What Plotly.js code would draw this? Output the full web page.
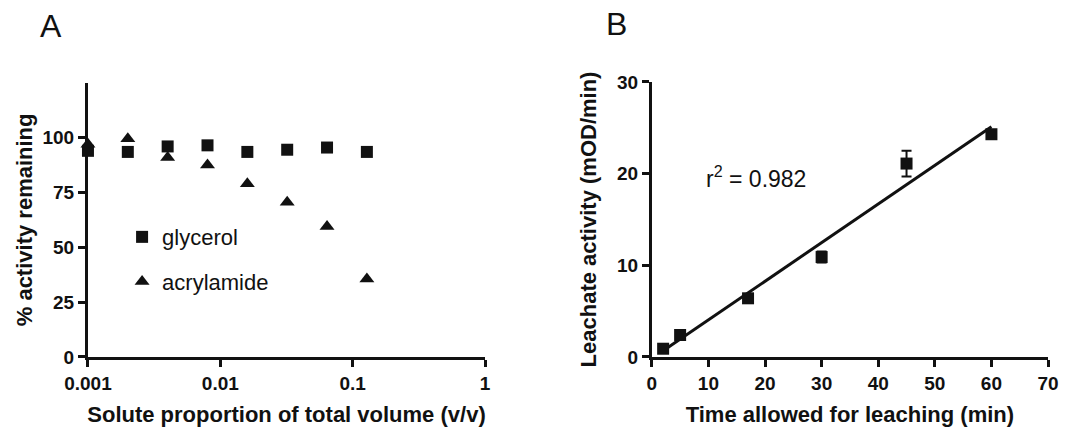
<!DOCTYPE html>
<html>
<head>
<meta charset="utf-8">
<script src="https://cdn.plot.ly/plotly-3.0.1.min.js"></script>
<style>html,body{margin:0;padding:0;background:#fff;}#chart{width:1090px;height:427px;}</style>
</head>
<body>
<div id="chart"></div>
<script>
// Panel A data
const propA = [0.001, 0.002, 0.004, 0.008, 0.016, 0.032, 0.064, 0.128];
const glycerol = [94, 93.5, 96, 96.5, 93.5, 94.5, 95.5, 93.5];
const acrylamide = [97, 99.5, 91, 87.5, 79, 70.5, 59.5, 35.5];
const xTickValsA = [0.001, 0.01, 0.1, 1];
const xTickTextA = ['0.001', '0.01', '0.1', '1'];
const yTickValsA = [0, 25, 50, 75, 100];

// Panel B data
const timeB = [2, 5, 17, 30, 45, 60];
const leachate = [0.9, 2.4, 6.4, 10.9, 21.1, 24.3];
const leachateErr = [0.2, 0.4, 0.3, 0.6, 1.4, 0.2];
const xTickValsB = [0, 10, 20, 30, 40, 50, 60, 70];
const yTickValsB = [0, 10, 20, 30];
const r2Text = 'r<sup>2</sup> = 0.982';

// least-squares fit line from the data
const n = timeB.length;
const mx = timeB.reduce((a, b) => a + b, 0) / n;
const my = leachate.reduce((a, b) => a + b, 0) / n;
let sxy = 0, sxx = 0;
for (let i = 0; i < n; i++) { sxy += (timeB[i] - mx) * (leachate[i] - my); sxx += (timeB[i] - mx) ** 2; }
const slope = sxy / sxx, icpt = my - slope * mx;
const fitX = [timeB[0], timeB[n - 1]];
const fitY = fitX.map(x => icpt + slope * x);

const FONT = 'Liberation Sans, Arial, sans-serif';
const tickFont = {family: FONT, size: 19, color: '#111', weight: 'bold'};
const titleFont = {family: FONT, size: 22, color: '#111', weight: 'bold'};

const traces = [
  {x: propA, y: glycerol, type: 'scatter', mode: 'markers', name: 'glycerol', legendgroup: 'g',
   marker: {symbol: 'square', size: 12, color: '#111'}, cliponaxis: false, xaxis: 'x', yaxis: 'y'},
  {x: propA, y: acrylamide, type: 'scatter', mode: 'markers', name: 'acrylamide', legendgroup: 'a',
   marker: {symbol: 'triangle-up', size: 13, color: '#111'}, cliponaxis: false, xaxis: 'x', yaxis: 'y'},
  {x: fitX, y: fitY, type: 'scatter', mode: 'lines', showlegend: false,
   line: {color: '#111', width: 3}, xaxis: 'x2', yaxis: 'y2'},
  {x: timeB, y: leachate, type: 'scatter', mode: 'markers', showlegend: false,
   marker: {symbol: 'square', size: 12, color: '#111'},
   error_y: {type: 'data', array: leachateErr, visible: true, color: '#111', thickness: 2, width: 5},
   cliponaxis: false, xaxis: 'x2', yaxis: 'y2'}
];

const axBase = {showgrid: false, zeroline: false, showline: true, linecolor: '#111', linewidth: 3,
  ticks: 'outside', ticklen: 7, tickwidth: 3, tickcolor: '#111', tickfont: tickFont, automargin: false};

const layout = {
  width: 1090, height: 427,
  margin: {l: 0, r: 0, t: 0, b: 0},
  paper_bgcolor: '#fff', plot_bgcolor: '#fff',
  showlegend: true,
  legend: {x: 0.112, y: 0.494, xanchor: 'left', yanchor: 'top', bgcolor: 'rgba(0,0,0,0)',
    font: {family: FONT, size: 22, color: '#111'}, tracegroupgap: 13, itemsizing: 'trace'},
  xaxis: Object.assign({}, axBase, {domain: [0.0807, 0.445], type: 'log', range: [-3, 0],
    tickvals: xTickValsA, ticktext: xTickTextA, anchor: 'y',
    title: {text: 'Solute proportion of total volume (v/v)', font: titleFont}}),
  yaxis: Object.assign({}, axBase, {domain: [0.164, 0.806], range: [0, 125], tickvals: yTickValsA, anchor: 'x',
    title: {text: '% activity remaining', font: titleFont}}),
  xaxis2: Object.assign({}, axBase, {domain: [0.598, 0.9615], range: [0, 70], tickvals: xTickValsB, anchor: 'y2',
    title: {text: 'Time allowed for leaching (min)', font: titleFont}}),
  yaxis2: Object.assign({}, axBase, {domain: [0.164, 0.808], range: [0, 30], tickvals: yTickValsB, anchor: 'x2',
    title: {text: 'Leachate activity (mOD/min)', font: titleFont}}),
  annotations: [
    {text: 'A', xref: 'paper', yref: 'paper', x: 0.0468, y: 0.939, xanchor: 'center', yanchor: 'middle',
     showarrow: false, font: {family: FONT, size: 32, color: '#111'}},
    {text: 'B', xref: 'paper', yref: 'paper', x: 0.566, y: 0.944, xanchor: 'center', yanchor: 'middle',
     showarrow: false, font: {family: FONT, size: 32, color: '#111'}},
    {text: r2Text, xref: 'x2', yref: 'y2', x: 18.4, y: 19.6, showarrow: false,
     font: {family: FONT, size: 23, color: '#111'}}
  ]
};

Plotly.newPlot('chart', traces, layout, {displayModeBar: false, staticPlot: true});
</script>
</body>
</html>
